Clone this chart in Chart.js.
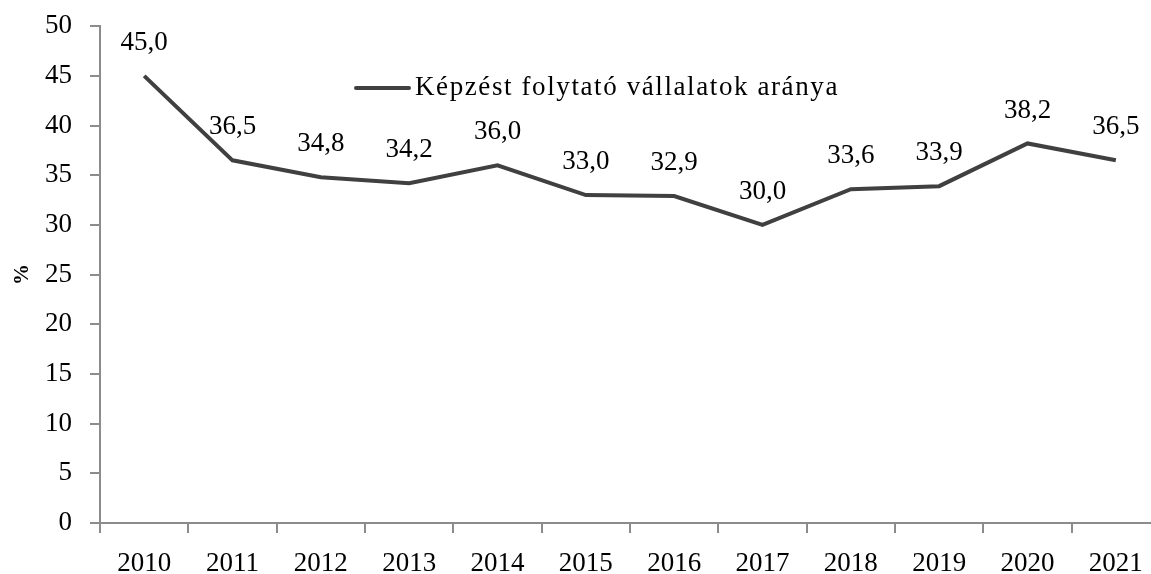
<!DOCTYPE html>
<html>
<head>
<meta charset="utf-8">
<script src="https://cdn.jsdelivr.net/npm/chart.js@4.4.0/dist/chart.umd.min.js"></script>
<style>
  html, body { margin: 0; padding: 0; background: #fff; overflow: hidden; }
  #wrap { position: relative; top: -8px; width: 1160px; height: 582px; }
</style>
</head>
<body>
<div id="wrap"><canvas id="chart"></canvas></div>
<script>
// Adatok
const years = ["2010", "2011", "2012", "2013", "2014", "2015", "2016", "2017", "2018", "2019", "2020", "2021"];
const shareValues = [45.0, 36.5, 34.8, 34.2, 36.0, 33.0, 32.9, 30.0, 33.6, 33.9, 38.2, 36.5];
const seriesLabel = "Képzést folytató vállalatok aránya";
const yTicks = [0, 5, 10, 15, 20, 25, 30, 35, 40, 45, 50];

const FONT = "'Liberation Serif', serif";
const FONT_SIZE = 27;
const LINE_COLOR = "#404040";
const AXIS_COLOR = "#8c8c8c";

// Értékcímkék a pontok fölé
const valueLabels = {
    id: "valueLabels",
    afterDatasetsDraw(chart) {
        const ctx = chart.ctx;
        const meta = chart.getDatasetMeta(0);
        ctx.save();
        ctx.font = FONT_SIZE + "px " + FONT;
        ctx.fillStyle = "#000";
        ctx.textAlign = "center";
        ctx.textBaseline = "middle";
        meta.data.forEach((pt, i) => {
            const txt = shareValues[i].toFixed(1).replace(".", ",");
            ctx.fillText(txt, pt.x, pt.y - 33);
        });
        ctx.restore();
    }
};

// Jelmagyarázat a rajzterületen belül
const innerLegend = {
    id: "innerLegend",
    afterDraw(chart) {
        const ctx = chart.ctx;
        const ds = chart.data.datasets[0];
        const x0 = 356, y0 = 96;
        ctx.save();
        ctx.strokeStyle = ds.borderColor;
        ctx.lineWidth = ds.borderWidth;
        ctx.lineCap = "round";
        ctx.beginPath();
        ctx.moveTo(x0, y0);
        ctx.lineTo(x0 + 53, y0);
        ctx.stroke();
        ctx.font = FONT_SIZE + "px " + FONT;
        ctx.letterSpacing = "1.6px";
        ctx.fillStyle = "#000";
        ctx.textBaseline = "middle";
        ctx.fillText(ds.label, x0 + 59, y0);
        ctx.restore();
    }
};

const ctx = document.getElementById("chart").getContext("2d");
new Chart(ctx, {
    type: "line",
    data: {
        labels: years,
        datasets: [{
            label: seriesLabel,
            data: shareValues,
            borderColor: LINE_COLOR,
            borderWidth: 4,
            pointRadius: 0,
            tension: 0,
            fill: false
        }]
    },
    options: {
        responsive: true,
        maintainAspectRatio: false,
        animation: false,
        layout: { padding: { top: 9, right: 0, left: 0, bottom: 0 } },
        plugins: {
            legend: { display: false },
            tooltip: { enabled: false }
        },
        scales: {
            x: {
                offset: true,
                grid: {
                    offset: true,
                    drawOnChartArea: false,
                    drawTicks: true,
                    tickLength: 10,
                    color: AXIS_COLOR,
                    lineWidth: 2
                },
                border: { color: AXIS_COLOR, width: 2 },
                ticks: {
                    color: "#000",
                    font: { family: FONT, size: FONT_SIZE },
                    padding: 15,
                    maxRotation: 0,
                    autoSkip: false
                },
                afterFit: s => { s.height = 51; }
            },
            y: {
                min: 0,
                max: 50,
                afterBuildTicks: s => { s.ticks = yTicks.map(v => ({ value: v })); },
                grid: {
                    drawOnChartArea: false,
                    drawTicks: true,
                    tickLength: 10,
                    color: AXIS_COLOR,
                    lineWidth: 2
                },
                border: { color: AXIS_COLOR, width: 2 },
                ticks: {
                    color: "#000",
                    font: { family: FONT, size: FONT_SIZE },
                    padding: 18
                },
                title: {
                    display: true,
                    text: "%",
                    color: "#000",
                    font: { family: FONT, size: 21, weight: "bold" },
                    padding: { top: 10, bottom: 0 }
                },
                afterFit: s => { s.width = 100; }
            }
        }
    },
    plugins: [valueLabels, innerLegend]
});
</script>
</body>
</html>
